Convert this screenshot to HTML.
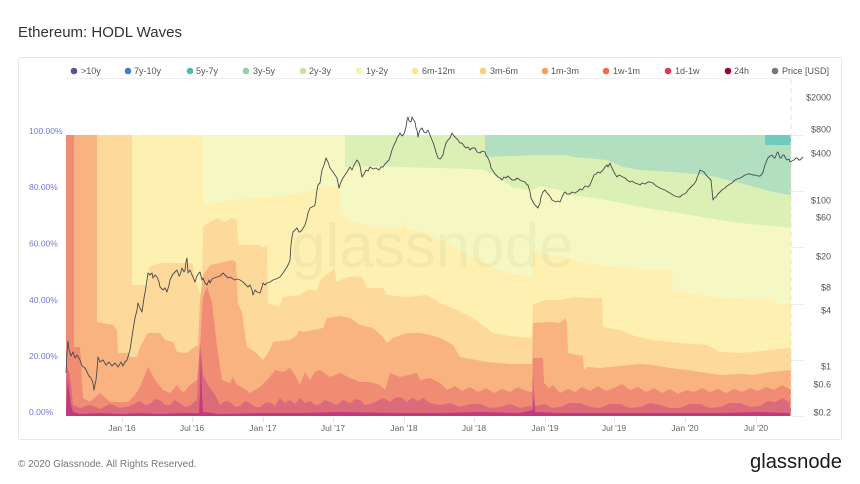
<!DOCTYPE html>
<html>
<head>
<meta charset="utf-8">
<style>
  html,body{margin:0;padding:0;background:#fff;}
  svg{display:block;}
  text{font-family:"Liberation Sans",Arial,sans-serif;}
</style>
</head>
<body>
<svg width="860" height="484" viewBox="0 0 860 484" xmlns="http://www.w3.org/2000/svg">
  <rect x="0" y="0" width="860" height="484" fill="#fff"/>
  <!-- Title -->
  <text x="18" y="37" font-size="15" fill="#333">Ethereum: HODL Waves</text>
  <!-- Card -->
  <rect x="18.5" y="57.5" width="823" height="382" fill="none" stroke="#e8e8e8" stroke-width="1" rx="2"/>

  <!-- Legend -->
  <g font-size="9" fill="#555">
    <circle cx="74" cy="71" r="3.3" fill="#5d4ea0"/><text x="81" y="74.2">&gt;10y</text>
    <circle cx="128" cy="71" r="3.3" fill="#3b80c0"/><text x="134" y="74.2">7y-10y</text>
    <circle cx="190" cy="71" r="3.3" fill="#4cbfad"/><text x="196" y="74.2">5y-7y</text>
    <circle cx="246" cy="71" r="3.3" fill="#92d2a0"/><text x="253" y="74.2">3y-5y</text>
    <circle cx="303" cy="71" r="3.3" fill="#c5e69a"/><text x="309" y="74.2">2y-3y</text>
    <circle cx="359" cy="71" r="3.3" fill="#f5f5a6"/><text x="366" y="74.2">1y-2y</text>
    <circle cx="415" cy="71" r="3.3" fill="#fde38a"/><text x="422" y="74.2">6m-12m</text>
    <circle cx="483" cy="71" r="3.3" fill="#fdcb7a"/><text x="490" y="74.2">3m-6m</text>
    <circle cx="545" cy="71" r="3.3" fill="#f9a05a"/><text x="551" y="74.2">1m-3m</text>
    <circle cx="606" cy="71" r="3.3" fill="#f36b44"/><text x="613" y="74.2">1w-1m</text>
    <circle cx="668" cy="71" r="3.3" fill="#dd3c4f"/><text x="675" y="74.2">1d-1w</text>
    <circle cx="728" cy="71" r="3.3" fill="#9e0142"/><text x="734" y="74.2">24h</text>
    <circle cx="775" cy="71" r="3.3" fill="#777"/><text x="782" y="74.2">Price [USD]</text>
  </g>
  <line x1="66" y1="78.5" x2="792" y2="78.5" stroke="#efefef" stroke-width="1"/>

  <!-- gridline stubs right of plot -->
  <g stroke="#ececec" stroke-width="1">
    <line x1="791" y1="135.5" x2="804" y2="135.5"/>
    <line x1="791" y1="191.5" x2="804" y2="191.5"/>
    <line x1="791" y1="247.5" x2="804" y2="247.5"/>
    <line x1="791" y1="304.5" x2="804" y2="304.5"/>
    <line x1="791" y1="360.5" x2="804" y2="360.5"/>
    <line x1="791" y1="416.5" x2="804" y2="416.5"/>
  </g>

  <!-- Bands -->
  <rect x="485" y="135" width="306" height="281" fill="#b1dfc0"/>
  <rect x="765" y="135" width="26" height="10" fill="#70cbbf"/>
  <polygon fill="#daf0b5" points="345,135 485,135 485,157 540,155 567,155 573,157 607,160 623,167 640,170 673,172 707,175 740,183 773,192 791,195 791,416 345,416"/>
  <polygon fill="#f6f8c3" points="203,135 345,135 345,167 370,166 400,167 440,168 470,169 485,170 500,178 513,188 533,190 540,186 560,190 573,195 607,200 640,207 673,212 707,218 740,223 773,226 791,228 791,416 203,416"/>
  <polygon fill="#fdf0b1" points="132,135 203,135 203,205 230,200 260,198 273,197 300,193 327,187 337,185 340,185 340,213 350,220 373,228 400,228 403,220 406,228 423,232 440,240 456,248 473,257 493,267 507,273 530,277 532,277 533,252 553,255 587,263 620,268 653,270 672,270 673,290 687,293 720,298 773,300 777,305 791,303 791,416 132,416"/>
  <polygon fill="#fdd99c" points="97,135 132,135 132,285 148,285 149,267 160,263 193,263 195,280 200,293 202,293 203,227 210,222 217,218 225,222 232,218 237,220 238,245 260,245 262,248 267,245 268,303 280,307 283,297 300,295 307,290 317,290 320,280 330,272 335,268 336,282 345,278 357,276 363,278 367,288 383,288 387,295 407,297 427,295 440,303 457,310 473,318 493,333 510,336 530,338 532,338 533,305 545,300 560,300 575,297 590,298 602,298 603,327 620,330 637,337 653,340 680,343 707,345 720,352 740,353 753,352 770,350 791,348 791,416 97,416"/>
  <polygon fill="#f9b380" points="74,135 97,135 97,322 113,325 117,330 118,353 128,353 130,357 137,357 140,347 148,333 160,333 165,340 173,342 177,352 187,353 193,348 198,345 200,300 203,275 210,265 220,263 232,260 236,262 238,303 242,313 247,347 255,352 263,360 270,350 273,342 290,340 297,335 299,330 303,332 313,330 323,328 327,318 340,316 350,318 360,325 373,328 383,337 387,343 393,338 407,333 420,333 430,335 440,338 453,345 460,357 487,362 510,364 530,364 532,364 533,323 550,322 560,323 565,318 567,323 568,353 583,356 584,370 587,367 600,368 620,366 640,364 653,365 670,368 687,370 700,372 720,375 740,374 753,375 770,372 791,370 791,416 74,416"/>
  <polygon fill="#f08b74" points="66,135 74,135 74,347 80,347 83,398 90,402 100,393 110,402 128,402 135,395 140,387 148,367 155,380 163,390 170,393 177,385 183,393 190,385 197,380 200,347 203,297 207,287 212,303 217,347 222,380 230,383 233,377 237,385 243,388 250,393 260,387 270,377 275,370 283,372 290,368 295,375 300,385 305,372 310,380 315,372 320,370 330,377 340,373 350,378 360,382 370,382 380,385 385,390 390,373 400,377 417,373 420,380 430,378 440,383 447,390 455,386 462,391 470,387 478,392 486,388 494,393 502,389 510,392 518,387 526,391 532,392 533,358 543,358 544,383 549,388 553,385 560,393 568,389 575,392 582,387 590,391 598,386 606,391 614,388 622,384 630,390 638,387 646,392 654,388 662,393 670,389 678,394 686,390 694,392 702,388 710,392 718,389 726,393 734,389 742,392 750,388 758,391 766,387 774,390 782,385 791,390 791,416 66,416"/>
  <polygon fill="#db6a7a" points="66,380 67,367 69,372 71,385 73,405 80,408 90,405 100,409 110,404 120,408 130,406 140,401 145,405 150,404 155,399 160,400 165,405 170,405 175,400 180,403 185,407 190,406 194,402 197,400 200,343 203,375 208,385 215,395 220,405 225,401 230,402 235,407 240,406 245,401 250,403 255,407 260,407 265,403 270,402 275,406 280,398 285,403 290,400 295,404 300,398 305,403 310,401 315,405 320,404 325,400 330,402 337,405 343,400 350,403 355,399 360,400 365,405 370,404 377,401 383,398 390,402 395,398 400,397 407,402 412,398 418,401 423,398 430,403 440,405 450,403 460,407 470,404 480,404 490,408 500,407 510,404 520,408 530,406 532,406 533,375 535,406 545,404 552,408 560,407 570,403 580,403 590,407 600,408 610,404 620,404 630,408 640,407 650,403 660,405 670,408 680,408 690,404 700,404 710,408 720,407 730,403 740,403 750,407 760,406 768,401 775,402 783,398 791,404 791,416 66,416"/>
  <polygon fill="#c33a7c" points="66,412 67,395 68,378 69,390 71,405 73,412 80,414 100,413 120,414 140,413 160,414 180,413 199,413 200,395 201,352 202,395 203,412 220,414 260,413 300,413 340,412 400,413 440,413 480,412 520,413 533,410 534,395 535,412 560,413 600,413 640,413 680,413 720,413 760,412 791,413 791,416 66,416"/>

  <!-- watermark -->
  <text x="291" y="267" font-size="62" fill="#000" fill-opacity="0.035">glassnode</text>

  <!-- dashed vertical marker -->
  <line x1="791" y1="79" x2="791" y2="416" stroke="#fbe1c0" stroke-width="1.2" stroke-dasharray="5 4" opacity="0.9"/>

  <!-- Price line -->
  <polyline fill="none" stroke="#4a4a4a" stroke-width="0.9" stroke-linejoin="round" points="66,373 67,352 68,341 69,350 71,356 73,352 75,358 77,355 80,360 82,366 85,368 87,372 89,376 91,378 93,383 94,390 96,380 97,370 98,357 100,362 103,360 106,365 109,362 112,366 115,363 118,367 121,362 123,366 125,362 127,360 130,350 133,330 135,318 137,310 138,303 140,308 142,312 144,298 145,293 147,280 148,273 150,275 152,273 153,278 155,275 157,277 159,282 160,287 163,290 165,288 167,292 169,285 170,280 173,274 175,272 177,270 179,276 180,275 182,268 184,272 185,270 186,262 187,258 188,273 190,270 192,275 193,277 195,282 197,276 199,273 200,272 202,280 203,278 205,283 207,285 209,280 210,283 212,279 214,278 217,277 220,276 223,273 226,276 228,278 230,277 233,279 235,280 237,279 240,280 243,282 246,285 248,287 250,285 252,290 253,295 255,290 257,292 260,293 262,287 263,283 265,285 267,283 270,282 273,280 276,279 280,277 283,273 285,270 287,267 289,263 290,260 291,245 292,237 293,232 295,230 297,228 299,232 300,232 302,230 305,225 307,218 308,213 310,208 312,207 314,206 315,205 317,190 318,185 320,183 321,176 322,170 324,165 326,158 328,162 330,168 333,172 335,175 337,178 339,188 341,182 343,178 345,175 347,172 350,167 352,170 354,165 357,160 359,163 360,166 362,177 364,174 366,170 368,171 370,167 373,169 376,168 379,170 381,167 383,167 385,164 387,162 389,160 390,157 392,150 394,145 396,141 397,138 399,135 400,133 402,136 404,134 406,127 407,120 408,117 409,121 411,122 412,117 413,119 415,122 416,128 417,130 418,137 419,133 420,130 422,128 424,132 426,133 428,130 430,135 432,140 434,145 436,152 438,158 440,159 441,158 443,155 444,150 446,143 448,140 450,138 452,133 454,136 455,137 457,139 458,140 460,143 462,143 464,146 466,148 468,147 470,150 472,148 475,148 477,152 480,153 482,151 485,152 486,155 488,158 490,163 491,168 493,171 496,175 498,177 500,178 502,180 504,177 506,178 508,176 510,178 512,180 515,180 517,178 520,180 522,181 525,182 527,185 528,185 530,192 531,198 533,202 535,205 537,207 538,208 540,203 541,197 543,192 545,190 547,193 549,195 551,198 552,200 554,201 556,202 558,201 560,202 562,197 564,193 565,192 567,194 570,194 572,192 575,193 578,191 580,189 582,190 585,186 588,187 590,185 592,180 594,175 596,174 598,172 600,173 602,171 603,170 605,167 607,165 608,167 610,163 611,166 613,170 615,174 617,177 619,175 621,176 623,177 625,178 627,180 630,182 632,181 635,183 638,184 640,185 642,183 645,184 648,182 650,182 653,183 655,185 658,187 660,188 662,189 665,190 668,192 670,193 673,195 675,196 678,197 680,197 682,195 684,194 686,193 688,190 690,188 692,186 694,184 696,181 697,178 699,173 700,170 702,171 704,172 706,175 708,177 710,179 711,180 712,190 713,200 714,198 716,197 718,194 720,192 722,190 725,188 727,186 730,184 732,183 735,180 737,179 740,178 742,177 745,175 748,174 750,174 753,175 755,175 758,176 760,176 762,174 763,172 765,165 767,160 768,158 770,156 772,155 774,158 775,158 777,153 778,152 780,158 781,158 783,155 784,155 786,159 787,160 789,159 790,162 792,161 794,160 796,158 797,158 799,160 800,160 802,158 803,157"/>

  <!-- Left axis -->
  <g font-size="8.5" fill="#6f7bd8">
    <text x="29" y="134">100.00%</text>
    <text x="29" y="190">80.00%</text>
    <text x="29" y="246.5">60.00%</text>
    <text x="29" y="303">40.00%</text>
    <text x="29" y="359">20.00%</text>
    <text x="29" y="415">0.00%</text>
  </g>

  <!-- Right axis -->
  <g font-size="9" fill="#555" text-anchor="end">
    <text x="831" y="100.5">$2000</text>
    <text x="831" y="132.5">$800</text>
    <text x="831" y="156.5">$400</text>
    <text x="831" y="203.5">$100</text>
    <text x="831" y="220.5">$60</text>
    <text x="831" y="259.5">$20</text>
    <text x="831" y="290.5">$8</text>
    <text x="831" y="313.5">$4</text>
    <text x="831" y="369.5">$1</text>
    <text x="831" y="387.5">$0.6</text>
    <text x="831" y="415.5">$0.2</text>
  </g>

  <!-- Bottom ticks -->
  <g stroke="#e2e2e2" stroke-width="1">
    <line x1="122.5" y1="417" x2="122.5" y2="422"/>
    <line x1="192.5" y1="417" x2="192.5" y2="422"/>
    <line x1="263.5" y1="417" x2="263.5" y2="422"/>
    <line x1="333.5" y1="417" x2="333.5" y2="422"/>
    <line x1="404.5" y1="417" x2="404.5" y2="422"/>
    <line x1="474.5" y1="417" x2="474.5" y2="422"/>
    <line x1="545.5" y1="417" x2="545.5" y2="422"/>
    <line x1="614.5" y1="417" x2="614.5" y2="422"/>
    <line x1="685.5" y1="417" x2="685.5" y2="422"/>
    <line x1="756.5" y1="417" x2="756.5" y2="422"/>
  </g>
  <g font-size="8.5" fill="#666" text-anchor="middle">
    <text x="122" y="431">Jan '16</text>
    <text x="192" y="431">Jul '16</text>
    <text x="263" y="431">Jan '17</text>
    <text x="333" y="431">Jul '17</text>
    <text x="404" y="431">Jan '18</text>
    <text x="474" y="431">Jul '18</text>
    <text x="545" y="431">Jan '19</text>
    <text x="614" y="431">Jul '19</text>
    <text x="685" y="431">Jan '20</text>
    <text x="756" y="431">Jul '20</text>
  </g>

  <!-- Footer -->
  <text x="18" y="467" font-size="10" fill="#777">© 2020 Glassnode. All Rights Reserved.</text>
  <text x="750" y="468" font-size="20" fill="#1a1a1a" textLength="92" lengthAdjust="spacingAndGlyphs">glassnode</text>
</svg>
</body>
</html>
